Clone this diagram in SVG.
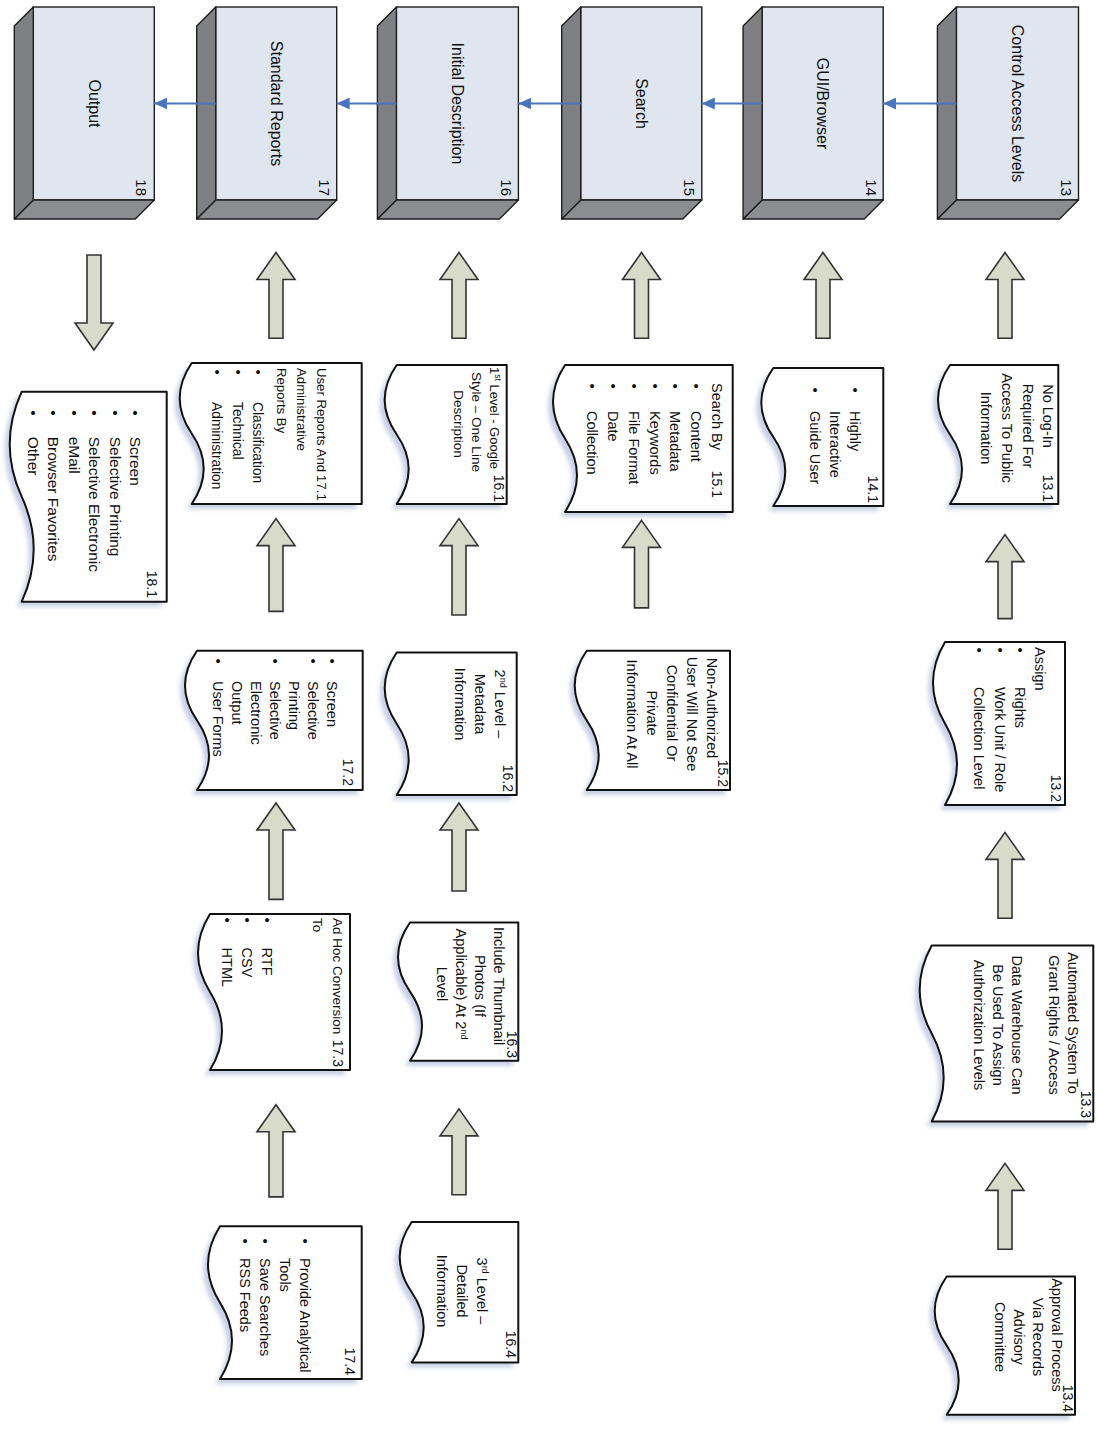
<svg xmlns="http://www.w3.org/2000/svg" width="1097" height="1437" viewBox="0 0 1097 1437">
<defs>
<style>
.bf{fill:#dfe6f0;stroke:#1e1e1e;stroke-width:1.4}
.bs{fill:#7e8084;stroke:#1e1e1e;stroke-width:1.4;stroke-linejoin:round}
.bb{fill:#8b8d91;stroke:#1e1e1e;stroke-width:1.4;stroke-linejoin:round}
.bl{font-family:"Liberation Sans",Arial,sans-serif;font-size:16px;fill:#111;text-anchor:middle}
.bn{font-family:"Liberation Sans",Arial,sans-serif;font-size:15px;fill:#111;text-anchor:end}
.doc{fill:#fff;stroke:#111;stroke-width:2;stroke-linejoin:round}
.sh{fill:#c6d0e6;filter:url(#blur)}
.t{font-family:"Liberation Sans",Arial,sans-serif;font-size:14.5px;fill:#111}
.c{text-anchor:middle}
.e{text-anchor:end}
.n{font-size:14px}
.blk{fill:#d9dbca;stroke:#333;stroke-width:1.6;stroke-linejoin:miter}
.conn{fill:none;stroke:#4a74bd;stroke-width:2.2;marker-end:url(#ah)}
</style>
<filter id="blur" x="-10%" y="-10%" width="120%" height="120%"><feGaussianBlur stdDeviation="2"/></filter>
<marker id="ah" markerUnits="userSpaceOnUse" markerWidth="14" markerHeight="12" refX="13" refY="6" orient="auto"><path d="M0,0 L13,6 L0,12 Z" fill="#4a74bd"/></marker>
</defs>
<rect width="1097" height="1437" fill="#fff"/>
<g transform="translate(1097,0) rotate(90)">

<g id="box13">
<rect class="bf" x="7" y="18.5" width="193" height="122.1"/>
<polygon class="bb" points="200,18.5 219,37.5 219,159.6 200,140.6"/>
<polygon class="bs" points="7,140.6 200,140.6 219,159.6 26,159.6"/>
<text class="bl" x="103.5" y="85">Control Access Levels</text>
<text class="bn" x="196" y="36">13</text>
</g>
<g id="box14">
<rect class="bf" x="7" y="213.8" width="193" height="121.1"/>
<polygon class="bb" points="200,213.8 219,232.8 219,353.9 200,334.9"/>
<polygon class="bs" points="7,334.9 200,334.9 219,353.9 26,353.9"/>
<text class="bl" x="103.5" y="280">GUI/Browser</text>
<text class="bn" x="196" y="231">14</text>
</g>
<g id="box15">
<rect class="bf" x="7" y="395.2" width="193" height="121.1"/>
<polygon class="bb" points="200,395.2 219,414.2 219,535.3 200,516.3"/>
<polygon class="bs" points="7,516.3 200,516.3 219,535.3 26,535.3"/>
<text class="bl" x="103.5" y="461">Search</text>
<text class="bn" x="196" y="413">15</text>
</g>
<g id="box16">
<rect class="bf" x="7" y="578.6" width="193" height="122"/>
<polygon class="bb" points="200,578.6 219,597.6 219,719.6 200,700.6"/>
<polygon class="bs" points="7,700.6 200,700.6 219,719.6 26,719.6"/>
<text class="bl" x="103.5" y="645">Initial Description</text>
<text class="bn" x="196" y="596">16</text>
</g>
<g id="box17">
<rect class="bf" x="7" y="760.3" width="193" height="121"/>
<polygon class="bb" points="200,760.3 219,779.3 219,900.3 200,881.3"/>
<polygon class="bs" points="7,881.3 200,881.3 219,900.3 26,900.3"/>
<text class="bl" x="103.5" y="826">Standard Reports</text>
<text class="bn" x="196" y="778">17</text>
</g>
<g id="box18">
<rect class="bf" x="7" y="942.7" width="193" height="121"/>
<polygon class="bb" points="200,942.7 219,961.7 219,1082.7 200,1063.7"/>
<polygon class="bs" points="7,1063.7 200,1063.7 219,1082.7 26,1082.7"/>
<text class="bl" x="103.5" y="1008">Output</text>
<text class="bn" x="196" y="961">18</text>
</g>

<g id="doc13_1">
<path class="sh" transform="translate(5,5)" d="M365,38.7 H504 V147 Q469.25,123 434.5,147 T365,147 Z"/>
<path class="doc" d="M365,38.7 H504 V147 Q469.25,123 434.5,147 T365,147 Z"/>
<text class="t c" x="416" y="54">No Log-In</text>
<text class="t c" x="426" y="74">Required For</text>
<text class="t c" x="428" y="95">Access To Public</text>
<text class="t c" x="428" y="116">Information</text>
<text class="t e n" x="502" y="54">13.1</text>
</g>
<g id="doc13_2">
<path class="sh" transform="translate(5,5)" d="M642,32 H805 V152 Q764.25,128 723.5,152 T642,152 Z"/>
<path class="doc" d="M642,32 H805 V152 Q764.25,128 723.5,152 T642,152 Z"/>
<text class="t" x="647" y="62">Assign</text>
<text class="t c" x="650" y="82">•</text>
<text class="t c" x="650" y="102">•</text>
<text class="t c" x="650" y="123">•</text>
<text class="t" x="687" y="82">Rights</text>
<text class="t" x="687" y="102">Work Unit / Role</text>
<text class="t" x="687" y="123">Collection Level</text>
<text class="t e n" x="802" y="46">13.2</text>
</g>
<g id="doc13_3">
<path class="sh" transform="translate(5,5)" d="M945.5,3.7 H1121.5 V165.3 Q1077.5,141.3 1033.5,165.3 T945.5,165.3 Z"/>
<path class="doc" d="M945.5,3.7 H1121.5 V165.3 Q1077.5,141.3 1033.5,165.3 T945.5,165.3 Z"/>
<text class="t c" x="1023" y="29">Automated System To</text>
<text class="t c" x="1025" y="48">Grant Rights / Access</text>
<text class="t c" x="1025" y="85">Data Warehouse Can</text>
<text class="t c" x="1025" y="104">Be Used To Assign</text>
<text class="t c" x="1025" y="123">Authorization Levels</text>
<text class="t e n" x="1118" y="16">13.3</text>
</g>
<g id="doc13_4">
<path class="sh" transform="translate(5,5)" d="M1276.5,22 H1414.8 V150.3 Q1380.2,126.3 1345.65,150.3 T1276.5,150.3 Z"/>
<path class="doc" d="M1276.5,22 H1414.8 V150.3 Q1380.2,126.3 1345.65,150.3 T1276.5,150.3 Z"/>
<text class="t c" x="1335" y="45">Approval Process</text>
<text class="t c" x="1337" y="64">Via Records</text>
<text class="t c" x="1337" y="83">Advisory</text>
<text class="t c" x="1337" y="102">Committee</text>
<text class="t e n" x="1412" y="34">13.4</text>
</g>
<g id="doc14_1">
<path class="sh" transform="translate(5,5)" d="M368,213.7 H506 V323.7 Q471.5,299.7 437,323.7 T368,323.7 Z"/>
<path class="doc" d="M368,213.7 H506 V323.7 Q471.5,299.7 437,323.7 T368,323.7 Z"/>
<text class="t e n" x="503" y="229">14.1</text>
<text class="t c" x="390" y="247">•</text>
<text class="t c" x="390" y="287">•</text>
<text class="t" x="411" y="247">Highly</text>
<text class="t" x="411" y="267">Interactive</text>
<text class="t" x="411" y="287">Guide User</text>
</g>
<g id="doc15_1">
<path class="sh" transform="translate(5,5)" d="M365,364.3 H512 V532 Q475.25,508 438.5,532 T365,532 Z"/>
<path class="doc" d="M365,364.3 H512 V532 Q475.25,508 438.5,532 T365,532 Z"/>
<text class="t" x="383" y="385">Search By</text>
<text class="t e n" x="498" y="385">15.1</text>
<text class="t c" x="386" y="406">•</text>
<text class="t c" x="386" y="426.6">•</text>
<text class="t c" x="386" y="447.4">•</text>
<text class="t c" x="386" y="468.2">•</text>
<text class="t c" x="386" y="489">•</text>
<text class="t c" x="386" y="509.8">•</text>
<text class="t" x="411" y="406">Content</text>
<text class="t" x="411" y="426.6">Metadata</text>
<text class="t" x="411" y="447.4">Keywords</text>
<text class="t" x="411" y="468.2">File Format</text>
<text class="t" x="411" y="489">Date</text>
<text class="t" x="411" y="509.8">Collection</text>
</g>
<g id="doc15_2">
<path class="sh" transform="translate(5,5)" d="M650.7,367 H790 V510.3 Q755.2,486.3 720.35,510.3 T650.7,510.3 Z"/>
<path class="doc" d="M650.7,367 H790 V510.3 Q755.2,486.3 720.35,510.3 T650.7,510.3 Z"/>
<text class="t c" x="708" y="390">Non-Authorized</text>
<text class="t c" x="714" y="410">User Will Not See</text>
<text class="t c" x="713" y="430">Confidential Or</text>
<text class="t c" x="713" y="450">Private</text>
<text class="t c" x="714" y="470">Information At All</text>
<text class="t e n" x="787" y="379">15.2</text>
</g>
<g id="doc16_1">
<path class="sh" transform="translate(5,5)" d="M365,590.3 H504 V700.3 Q469.25,676.3 434.5,700.3 T365,700.3 Z"/>
<path class="doc" d="M365,590.3 H504 V700.3 Q469.25,676.3 434.5,700.3 T365,700.3 Z"/>
<text class="t c" x="418" y="607" style="font-size:13px">1<tspan baseline-shift="super" font-size="8.5">st</tspan> Level - Google</text>
<text class="t c" x="422" y="625" style="font-size:13.5px">Style – One Line</text>
<text class="t c" x="424" y="643" style="font-size:13.5px">Description</text>
<text class="t e n" x="502" y="603">16.1</text>
</g>
<g id="doc16_2">
<path class="sh" transform="translate(5,5)" d="M652.5,580.3 H795 V700.3 Q759.4,676.3 723.75,700.3 T652.5,700.3 Z"/>
<path class="doc" d="M652.5,580.3 H795 V700.3 Q759.4,676.3 723.75,700.3 T652.5,700.3 Z"/>
<text class="t c" x="704" y="602">2<tspan baseline-shift="super" font-size="9">nd</tspan> Level –</text>
<text class="t c" x="704" y="622">Metadata</text>
<text class="t c" x="704" y="642">Information</text>
<text class="t e n" x="792" y="594">16.2</text>
</g>
<g id="doc16_3">
<path class="sh" transform="translate(5,5)" d="M922.5,578.7 H1060.7 V687 Q1026.15,663 991.6,687 T922.5,687 Z"/>
<path class="doc" d="M922.5,578.7 H1060.7 V687 Q1026.15,663 991.6,687 T922.5,687 Z"/>
<text class="t c" x="986" y="603">Include Thumbnail</text>
<text class="t c" x="986" y="622">Photos (If</text>
<text class="t c" x="984" y="641">Applicable) At 2<tspan baseline-shift="super" font-size="9">nd</tspan></text>
<text class="t c" x="984" y="660">Level</text>
<text class="t e n" x="1058" y="590">16.3</text>
</g>
<g id="doc16_4">
<path class="sh" transform="translate(5,5)" d="M1222,578.7 H1362.4 V685.3 Q1327.3,661.3 1292.2,685.3 T1222,685.3 Z"/>
<path class="doc" d="M1222,578.7 H1362.4 V685.3 Q1327.3,661.3 1292.2,685.3 T1222,685.3 Z"/>
<text class="t c" x="1291" y="620">3<tspan baseline-shift="super" font-size="9">rd</tspan> Level –</text>
<text class="t c" x="1291" y="640">Detailed</text>
<text class="t c" x="1291" y="660">Information</text>
<text class="t e n" x="1358" y="591">16.4</text>
</g>
<g id="doc17_1">
<path class="sh" transform="translate(5,5)" d="M363,735.3 H504 V905.3 Q468.75,881.3 433.5,905.3 T363,905.3 Z"/>
<path class="doc" d="M363,735.3 H504 V905.3 Q468.75,881.3 433.5,905.3 T363,905.3 Z"/>
<text class="t e" x="501" y="780" style="font-size:13.5px">17.1</text>
<text class="t" x="368" y="780" style="font-size:13.2px">User Reports And</text>
<text class="t" x="368" y="800" style="font-size:13.2px">Administrative</text>
<text class="t" x="368" y="820" style="font-size:13.2px">Reports By</text>
<text class="t c" x="372" y="844">•</text>
<text class="t c" x="372" y="864">•</text>
<text class="t c" x="372" y="885">•</text>
<text class="t" x="402" y="844" style="font-size:13.8px">Classification</text>
<text class="t" x="402" y="864" style="font-size:13.8px">Technical</text>
<text class="t" x="402" y="885" style="font-size:13.8px">Administration</text>
</g>
<g id="doc17_2">
<path class="sh" transform="translate(5,5)" d="M650.7,734.3 H790 V900 Q755.2,876 720.35,900 T650.7,900 Z"/>
<path class="doc" d="M650.7,734.3 H790 V900 Q755.2,876 720.35,900 T650.7,900 Z"/>
<text class="t e n" x="786" y="754">17.2</text>
<text class="t c" x="661" y="770">•</text>
<text class="t c" x="661" y="789">•</text>
<text class="t c" x="661" y="827">•</text>
<text class="t c" x="661" y="884">•</text>
<text class="t" x="681" y="770">Screen</text>
<text class="t" x="681" y="789">Selective</text>
<text class="t" x="681" y="808">Printing</text>
<text class="t" x="681" y="827">Selective</text>
<text class="t" x="681" y="846">Electronic</text>
<text class="t" x="681" y="865">Output</text>
<text class="t" x="681" y="884">User Forms</text>
</g>
<g id="doc17_3">
<path class="sh" transform="translate(5,5)" d="M914,747 H1070 V887 Q1031,863 992,887 T914,887 Z"/>
<path class="doc" d="M914,747 H1070 V887 Q1031,863 992,887 T914,887 Z"/>
<text class="t" x="918" y="764" style="font-size:13.5px">Ad Hoc Conversion</text>
<text class="t e n" x="1067" y="764">17.3</text>
<text class="t" x="918" y="784" style="font-size:13.5px">To</text>
<text class="t c" x="920" y="835">•</text>
<text class="t c" x="920" y="855">•</text>
<text class="t c" x="920" y="875">•</text>
<text class="t" x="947.6" y="835">RTF</text>
<text class="t" x="947.6" y="855">CSV</text>
<text class="t" x="947.6" y="875">HTML</text>
</g>
<g id="doc17_4">
<path class="sh" transform="translate(5,5)" d="M1226.2,735.3 H1379 V877 Q1340.8,853 1302.6,877 T1226.2,877 Z"/>
<path class="doc" d="M1226.2,735.3 H1379 V877 Q1340.8,853 1302.6,877 T1226.2,877 Z"/>
<text class="t e n" x="1375" y="752">17.4</text>
<text class="t c" x="1241" y="797">•</text>
<text class="t c" x="1241" y="837">•</text>
<text class="t c" x="1241" y="857">•</text>
<text class="t" x="1258" y="797">Provide Analytical</text>
<text class="t" x="1258" y="817">Tools</text>
<text class="t" x="1258" y="837">Save Searches</text>
<text class="t" x="1258" y="857">RSS Feeds</text>
</g>
<g id="doc18_1">
<path class="sh" transform="translate(5,5)" d="M391.7,930.3 H601.7 V1075.3 Q549.2,1051.3 496.7,1075.3 T391.7,1075.3 Z"/>
<path class="doc" d="M391.7,930.3 H601.7 V1075.3 Q549.2,1051.3 496.7,1075.3 T391.7,1075.3 Z"/>
<text class="t e n" x="598" y="950">18.1</text>
<text class="t c" x="413" y="967" style="font-size:15.5px">•</text>
<text class="t c" x="413" y="987.5" style="font-size:15.5px">•</text>
<text class="t c" x="413" y="1008" style="font-size:15.5px">•</text>
<text class="t c" x="413" y="1028.5" style="font-size:15.5px">•</text>
<text class="t c" x="413" y="1049" style="font-size:15.5px">•</text>
<text class="t c" x="413" y="1069.5" style="font-size:15.5px">•</text>
<text class="t" x="436.7" y="967" style="font-size:15.5px">Screen</text>
<text class="t" x="436.7" y="987.5" style="font-size:15.5px">Selective Printing</text>
<text class="t" x="436.7" y="1008" style="font-size:15.5px">Selective Electronic</text>
<text class="t" x="436.7" y="1028.5" style="font-size:15.5px">eMail</text>
<text class="t" x="436.7" y="1049" style="font-size:15.5px">Browser Favorites</text>
<text class="t" x="436.7" y="1069.5" style="font-size:15.5px">Other</text>
</g>

<g id="connectors">
<line class="conn" x1="103.5" y1="140.6" x2="103.5" y2="213.8"/>
<line class="conn" x1="103.5" y1="334.9" x2="103.5" y2="395.2"/>
<line class="conn" x1="103.5" y1="516.3" x2="103.5" y2="578.6"/>
<line class="conn" x1="103.5" y1="700.6" x2="103.5" y2="760.3"/>
<line class="conn" x1="103.5" y1="881.3" x2="103.5" y2="942.7"/>
<polygon class="blk" points="252.5,92 279.5,73 279.5,85 338.2,85 338.2,99 279.5,99 279.5,111"/>
<polygon class="blk" points="534.6,92 561.6,73 561.6,85 618.6,85 618.6,99 561.6,99 561.6,111"/>
<polygon class="blk" points="832.4,92 859.4,73 859.4,85 918.3,85 918.3,99 859.4,99 859.4,111"/>
<polygon class="blk" points="1163.4,92 1190.4,73 1190.4,85 1249.3,85 1249.3,99 1190.4,99 1190.4,111"/>
<polygon class="blk" points="252.5,274 279.5,255 279.5,267 338.2,267 338.2,281 279.5,281 279.5,293"/>
<polygon class="blk" points="252.5,455.5 279.5,436.5 279.5,448.5 338.2,448.5 338.2,462.5 279.5,462.5 279.5,474.5"/>
<polygon class="blk" points="520.4,455.5 547.4,436.5 547.4,448.5 607.9,448.5 607.9,462.5 547.4,462.5 547.4,474.5"/>
<polygon class="blk" points="252.5,638 279.5,619 279.5,631 338.2,631 338.2,645 279.5,645 279.5,657"/>
<polygon class="blk" points="518.6,638 545.6,619 545.6,631 615,631 615,645 545.6,645 545.6,657"/>
<polygon class="blk" points="803,638 830,619 830,631 891,631 891,645 830,645 830,657"/>
<polygon class="blk" points="1108.9,638 1135.9,619 1135.9,631 1194.8,631 1194.8,645 1135.9,645 1135.9,657"/>
<polygon class="blk" points="252.5,821 279.5,802 279.5,814 338.2,814 338.2,828 279.5,828 279.5,840"/>
<polygon class="blk" points="518.6,821 545.6,802 545.6,814 611.4,814 611.4,828 545.6,828 545.6,840"/>
<polygon class="blk" points="803,821 830,802 830,814 899.4,814 899.4,828 830,828 830,840"/>
<polygon class="blk" points="1104.7,821 1131.7,802 1131.7,814 1196.9,814 1196.9,828 1131.7,828 1131.7,840"/>
<polygon class="blk" points="350,1003 323,984 323,996 255,996 255,1010 323,1010 323,1022"/>
</g>
</g>
</svg>
